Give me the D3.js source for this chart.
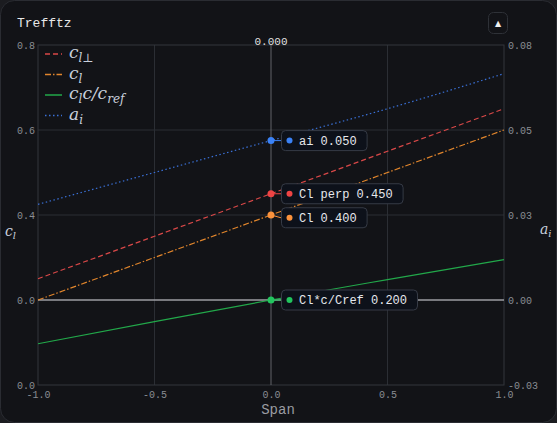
<!DOCTYPE html>
<html>
<head>
<meta charset="utf-8">
<script src="https://cdn.jsdelivr.net/npm/d3@7"></script>
<style>
  html, body { margin: 0; padding: 0; background: #1b1c20; }
  svg { display: block; }
  .tick text { font-family: "Liberation Mono", monospace; font-size: 10px; fill: #8a8d93; }
  .math { font-family: "DejaVu Serif", serif; font-style: italic; fill: #c9d0dc; }
  .mono { font-family: "Liberation Mono", monospace; }
</style>
</head>
<body>
<svg class="chart" width="557" height="423"></svg>
<script>
"use strict";

// span stations
var span = [-1, -0.5, 0, 0.5, 1];
// series (left axis)
var clPerp = [0.25, 0.35, 0.45, 0.55, 0.65];
var cl = [0.20, 0.30, 0.40, 0.50, 0.60];
var clcCref = [0.097, 0.149, 0.200, 0.248, 0.295];
// series (right axis)
var ai = [0.030, 0.040, 0.050, 0.060, 0.071];

// axis ticks as drawn in the reference
var leftTicks = [0.8, 0.6, 0.4, 0.2, 0.0];
var leftLabels = ['0.8', '0.6', '0.4', '0.0', '0.0'];
var rightDomain = [-0.0267, 0.08];
var rightTicks = [0.08, 0.0533, 0.0267, 0, -0.0267];
var rightLabels = ['0.08', '0.05', '0.03', '0.00', '-0.03'];
var xTicks = [-1, -0.5, 0, 0.5, 1];
var hoverX = 0;

var series = [
  {id: 'clPerp', name: 'Cl perp', vals: clPerp, axis: 'l', color: '#d94848', dot: '#ef4444', dash: '5,3'},
  {id: 'cl', name: 'Cl', vals: cl, axis: 'l', color: '#e0852c', dot: '#fb923c', dash: '6,2,1.5,2'},
  {id: 'clc', name: 'Cl*c/Cref', vals: clcCref, axis: 'l', color: '#22a84a', dot: '#22c55e', dash: null},
  {id: 'ai', name: 'ai', vals: ai, axis: 'r', color: '#3a70d6', dot: '#3b82f6', dash: '1.5,2.5'}
];

var m = {left: 38, right: 504, top: 45, bottom: 385};
var svg = d3.select('.chart');

// card
svg.append('rect').attr('x', 0.5).attr('y', 0.5).attr('width', 556).attr('height', 422)
  .attr('rx', 14).attr('fill', '#121317').attr('stroke', '#2a2c32');
svg.append('text').attr('class', 'mono').attr('x', 17).attr('y', 27)
  .attr('font-size', 13).attr('fill', '#e8e8e8').text('Trefftz');
svg.append('rect').attr('x', 488.5).attr('y', 12.5).attr('width', 19).attr('height', 21)
  .attr('rx', 5).attr('fill', '#121317').attr('stroke', '#2e3137');
svg.append('text').attr('x', 498).attr('y', 26).attr('text-anchor', 'middle')
  .attr('font-size', 8).attr('fill', '#f0f0f0').attr('font-family', 'DejaVu Sans').text('▲');

var x = d3.scaleLinear().domain([-1, 1]).range([m.left, m.right]);
var yL = d3.scaleLinear().domain([0, 0.8]).range([m.bottom, m.top]);
var yR = d3.scaleLinear().domain(rightDomain).range([m.bottom, m.top]);

// grid
var grid = svg.append('g');
grid.selectAll('.gx').data([-0.5, 0.5]).enter().append('line')
  .attr('x1', d => x(d)).attr('x2', d => x(d)).attr('y1', m.top).attr('y2', m.bottom)
  .attr('stroke', '#2b2e34');
grid.selectAll('.gy').data([0.6, 0.4]).enter().append('line')
  .attr('x1', m.left).attr('x2', m.right).attr('y1', d => yL(d)).attr('y2', d => yL(d))
  .attr('stroke', '#2b2e34');
grid.append('rect').attr('x', m.left).attr('y', m.top)
  .attr('width', m.right - m.left).attr('height', m.bottom - m.top)
  .attr('fill', 'none').attr('stroke', '#33363c');
// zero line of right axis
grid.append('line').attr('x1', m.left).attr('x2', m.right)
  .attr('y1', yR(0)).attr('y2', yR(0))
  .attr('stroke', '#9c9ea3').attr('stroke-width', 1.5);

// axes
var axL = d3.axisLeft(yL).tickValues(leftTicks).tickSize(0).tickPadding(3)
  .tickFormat((d, i) => leftLabels[i]);
svg.append('g').attr('transform', 'translate(' + m.left + ',0)').call(axL)
  .call(g => g.select('.domain').remove());
var axR = d3.axisRight(yR).tickValues(rightTicks).tickSize(0).tickPadding(4)
  .tickFormat((d, i) => rightLabels[i]);
svg.append('g').attr('transform', 'translate(' + m.right + ',0)').call(axR)
  .call(g => g.select('.domain').remove());
var axB = d3.axisBottom(x).tickValues(xTicks).tickSize(0).tickPadding(6)
  .tickFormat(d => d3.format('.1f')(d).replace('−', '-'));
svg.append('g').attr('transform', 'translate(0,' + m.bottom + ')').call(axB)
  .call(g => g.select('.domain').remove());

svg.append('text').attr('class', 'mono').attr('x', 278).attr('y', 414)
  .attr('text-anchor', 'middle').attr('font-size', 14).attr('fill', '#9a9ca1').text('Span');

// axis titles
var tL = svg.append('text').attr('class', 'math').attr('x', 5).attr('y', 236).attr('font-size', 14);
tL.append('tspan').text('c');
tL.append('tspan').attr('dy', 3).attr('font-size', 10).text('l');
var tR = svg.append('text').attr('class', 'math').attr('x', 540).attr('y', 234).attr('font-size', 14);
tR.append('tspan').text('a');
tR.append('tspan').attr('dy', 3).attr('font-size', 10).text('i');

// crosshair
svg.append('line').attr('x1', x(hoverX)).attr('x2', x(hoverX)).attr('y1', m.top).attr('y2', m.bottom)
  .attr('stroke', '#606369');
svg.append('text').attr('class', 'mono').attr('x', x(hoverX)).attr('y', 45)
  .attr('text-anchor', 'middle').attr('font-size', 11).attr('fill', '#e0e0e0')
  .text(d3.format('.3f')(hoverX));

// lines
series.forEach(function (s) {
  var ys = s.axis === 'l' ? yL : yR;
  var line = d3.line().x((d, i) => x(span[i])).y(d => ys(d)).curve(d3.curveMonotoneX);
  svg.append('path').datum(s.vals).attr('d', line)
    .attr('fill', 'none').attr('stroke', s.color).attr('stroke-width', 1.2)
    .attr('stroke-dasharray', s.dash);
});

// legend
var legend = [
  {s: series[0], parts: [['c', 0], ['l⊥', 1]]},
  {s: series[1], parts: [['c', 0], ['l', 1]]},
  {s: series[2], parts: [['c', 0], ['l', 1], ['c/c', 0], ['ref', 1]]},
  {s: series[3], parts: [['a', 0], ['i', 1]]}
];
legend.forEach(function (d, i) {
  var ly = 54 + i * 20.5;
  svg.append('line').attr('x1', 45).attr('x2', 62).attr('y1', ly).attr('y2', ly)
    .attr('stroke', d.s.color).attr('stroke-width', 1.5).attr('stroke-dasharray', d.s.dash);
  var t = svg.append('text').attr('class', 'math').attr('x', 69).attr('y', ly + 4).attr('font-size', 17);
  var sub = 0;
  d.parts.forEach(function (p) {
    var dy = p[1] ? (sub ? 0 : 4) : (sub ? -4 : 0);
    sub = p[1];
    t.append('tspan').attr('dy', dy).attr('font-size', p[1] ? 12 : 17).text(p[0]);
  });
});

// tooltips at hover position
var idx = span.indexOf(hoverX);
var tips = series.map(function (s) {
  var ys = s.axis === 'l' ? yL : yR;
  return {s: s, v: s.vals[idx], py: ys(s.vals[idx])};
}).sort((a, b) => a.py - b.py);
var last = -1e9;
tips.forEach(function (t) {
  t.by = Math.max(t.py, last + 24);
  last = t.by;
});
var fmt = d3.format('.3f');
tips.forEach(function (t) {
  var px = x(hoverX);
  var label = t.s.name + ' ' + fmt(t.v);
  var w = 28 + label.length * 7.2;
  svg.append('line').attr('x1', px).attr('x2', px + 10).attr('y1', t.py).attr('y2', t.by)
    .attr('stroke', t.s.dot).attr('stroke-width', 1);
  svg.append('circle').attr('cx', px).attr('cy', t.py).attr('r', 3.5).attr('fill', t.s.dot);
  svg.append('rect').attr('x', px + 10.5).attr('y', t.by - 10).attr('width', w).attr('height', 20)
    .attr('rx', 4).attr('fill', '#0d111a').attr('stroke', '#363b46');
  svg.append('circle').attr('cx', px + 18.5).attr('cy', t.by).attr('r', 3).attr('fill', t.s.dot);
  svg.append('text').attr('class', 'mono').attr('x', px + 28).attr('y', t.by + 4)
    .attr('font-size', 12).attr('fill', '#e6e8ec').text(label);
});
</script>
</body>
</html>
